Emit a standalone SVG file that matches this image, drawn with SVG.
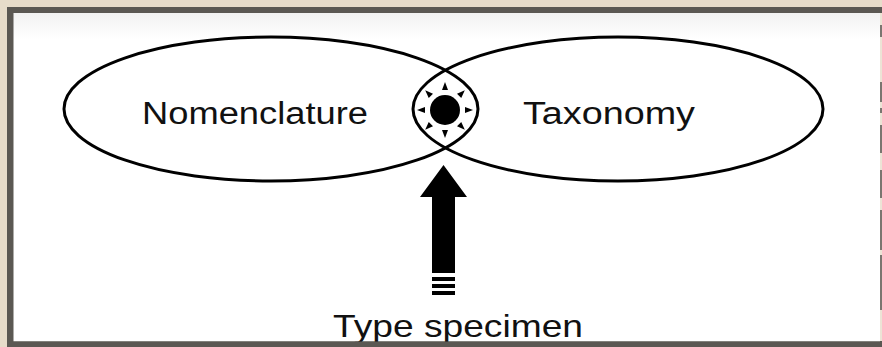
<svg xmlns="http://www.w3.org/2000/svg" width="882" height="347" viewBox="0 0 882 347">
  <style>
    .lbl { font-family: "Liberation Sans", Arial, sans-serif; fill: #111; }
    .ell { fill: none; stroke: #000; stroke-width: 3; }
    .dash { fill: #7a7670; }
  </style>
  <defs>
    <linearGradient id="panel" x1="0" y1="0" x2="0" y2="1">
      <stop offset="0" stop-color="#f2f2f2"/>
      <stop offset="0.08" stop-color="#ffffff"/>
      <stop offset="1" stop-color="#ffffff"/>
    </linearGradient>
    <polygon id="tri" points="0,-28 -3,-20 3,-20" fill="#000"/>
  </defs>
  <!-- parchment background and frame -->
  <rect x="0" y="0" width="882" height="347" fill="#e7dcca"/>
  <rect x="7" y="7" width="875" height="340" fill="#5b5853"/>
  <rect x="880" y="13" width="2" height="328" fill="#ece4d6"/>
  <rect class="dash" x="880" y="25" width="2" height="12"/>
  <rect class="dash" x="880" y="82" width="2" height="20"/>
  <rect class="dash" x="880" y="108" width="2" height="5"/>
  <rect class="dash" x="880" y="125" width="2" height="28"/>
  <rect class="dash" x="880" y="170" width="2" height="28"/>
  <rect class="dash" x="880" y="210" width="2" height="40"/>
  <rect class="dash" x="880" y="255" width="2" height="55"/>
  <rect x="13.5" y="13" width="866.5" height="328.5" fill="url(#panel)"/>

  <g id="node-nomenclature">
    <ellipse class="ell" cx="271" cy="109" rx="207" ry="72"/>
    <text class="lbl" x="142" y="123.5" font-size="31" textLength="226" lengthAdjust="spacingAndGlyphs">Nomenclature</text>
  </g>
  <g id="node-taxonomy">
    <ellipse class="ell" cx="618" cy="109" rx="205" ry="72"/>
    <text class="lbl" x="523" y="123.5" font-size="31" textLength="172" lengthAdjust="spacingAndGlyphs">Taxonomy</text>
  </g>
  <g id="node-symbol" transform="translate(445,110)">
    <circle r="15" fill="#000"/>
    <use href="#tri" transform="rotate(0)"/>
    <use href="#tri" transform="rotate(45)"/>
    <use href="#tri" transform="rotate(90)"/>
    <use href="#tri" transform="rotate(135)"/>
    <use href="#tri" transform="rotate(180)"/>
    <use href="#tri" transform="rotate(225)"/>
    <use href="#tri" transform="rotate(270)"/>
    <use href="#tri" transform="rotate(315)"/>
  </g>
  <g id="connectors">
    <polygon points="443.5,165 467,197 455,197 455,273 432,273 432,197 420,197" fill="#000"/>
    <rect x="432" y="277" width="23" height="4" fill="#000"/>
    <rect x="432" y="284" width="23" height="4" fill="#000"/>
    <rect x="432" y="291" width="23" height="4" fill="#000"/>
  </g>
  <g id="node-type-specimen">
    <text class="lbl" x="333" y="337" font-size="32" textLength="250" lengthAdjust="spacingAndGlyphs">Type specimen</text>
  </g>
  <!-- bottom frame edge drawn over descenders -->
  <rect x="7" y="341.5" width="875" height="5.5" fill="#5b5853"/>
</svg>
